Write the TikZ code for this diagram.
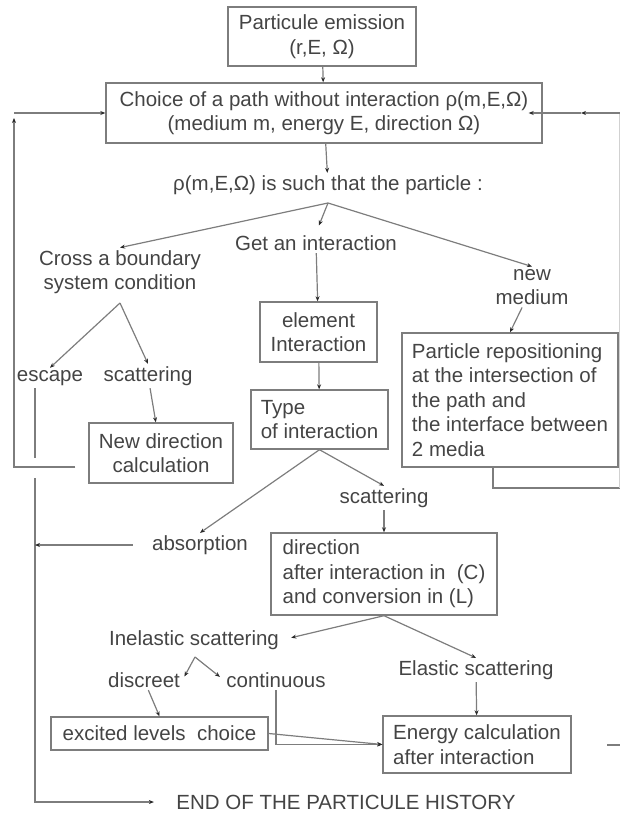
\documentclass[tikz,border=0pt]{standalone}
\usepackage{fontspec}
\setmainfont{Liberation Sans}
\usetikzlibrary{arrows.meta}
\definecolor{inkgray}{RGB}{68,68,68}
\definecolor{linegray}{RGB}{125,125,125}
\definecolor{tipgray}{RGB}{40,40,40}

\begin{document}
\begin{tikzpicture}[x=1pt, y=-1pt, ->, >={Stealth[length=5pt, width=4pt, color=tipgray]},
    line width=1.2pt, color=linegray,
    every node/.style={
        text=inkgray,
        inner sep=2pt,
        font=\fontsize{20.5}{24.5}\selectfont
    },
    box/.style={draw=linegray, line width=1.4pt, align=center, inner sep=0pt},
    lbox/.style={box, align=left},
    lbl/.style={align=center}]

    \useasboundingbox (0,0) rectangle (620,813);

    % Emission and choice of the path
    \node[box, minimum width=188pt, minimum height=59pt] (emis) at (322,36.5) {Particule emission\\(r,E, Ω)};
    \node[box, minimum width=436pt, minimum height=60pt] (choice) at (324,113) {Choice of a path without interaction ρ(m,E,Ω)\\(medium m, energy E, direction Ω)};
    \node[lbl] (such) at (328,185) {ρ(m,E,Ω) is such that the particle :};
    \coordinate (forkA) at (328,203);

    % Three outcomes
    \node[lbl] (cross) at (120,272) {Cross a boundary\\system condition};
    \node[lbl] (getint) at (316,243) {Get an interaction};
    \node[lbl] (newmed) at (532,287) {new\\medium};
    \node[box, minimum width=117pt, minimum height=60pt] (elem) at (318.5,332) {element\\Interaction};
    \node[lbox, minimum width=216pt, minimum height=134pt] (repos) at (510,400) {Particle repositioning\\at the intersection of\\the path and\\the interface between\\2 media};

    % Boundary branch
    \coordinate (forkB) at (120,303);
    \node[lbl] (escape) at (50,378) {escape};
    \node[lbl] (scatA) at (148,376) {scattering};
    \node[box, minimum width=144pt, minimum height=60pt] (newdir) at (161,453) {New direction\\calculation};

    % Interaction branch
    \node[lbox, minimum width=137pt, minimum height=59pt] (itype) at (319.5,419.5) {Type\\of interaction};
    \node[lbl] (scatB) at (384,498) {scattering};
    \node[lbl] (absorb) at (200,545) {absorption};
    \node[lbox, minimum width=226pt, minimum height=82pt] (dirconv) at (384,574) {direction\\after interaction in\ \ (C)\\and conversion in (L)};
    \node[lbl] (inel) at (194,640) {Inelastic scattering};
    \node[lbl] (elast) at (476,670) {Elastic scattering};
    \coordinate (forkD) at (195,657);
    \node[lbl] (discr) at (144,680) {discreet};
    \node[lbl] (contin) at (276,680) {continuous};
    \node[box, minimum width=217pt, minimum height=33pt] (excited) at (159.5,733.5) {excited levels\ \ choice};
    \node[lbox, minimum width=188pt, minimum height=57pt] (energy) at (477,744.5) {Energy calculation\\after interaction};
    \node[lbl] (hist) at (346,802) {END OF THE PARTICULE HISTORY};

    % Main chain
    \draw (emis) -- (choice);
    \draw (choice) -- (such);
    \draw (forkA) -- (cross.north);
    \draw[shorten >=8pt] (forkA) -- (getint.north);
    \draw (forkA) -- (newmed.north);
    \draw (getint) -- (elem);
    \draw (newmed) -- (repos.north);
    \draw (elem) -- (itype);

    % Boundary
    \draw (forkB) -- (escape.north);
    \draw (forkB) -- (scatA.north);
    \draw (scatA) -- (newdir);

    % Back to the choice of a path
    \coordinate (backB) at (14,467);
    \coordinate (backT) at (14,113);
    \draw ([shift={(-13,14)}]newdir.west) -- (backB) -- ([shift={(0,5)}]backT);
    \draw (backT) -- (choice.west);
    \coordinate (rightB) at (620,488);
    \coordinate (rightT) at (620,113);
    \coordinate (rightmid) at (581,113);
    \draw[-] ([xshift=-17pt]repos.south) |- (rightB);
    \draw[-, color=linegray!35] (rightB) -- (rightT);
    \draw (rightT) -- (rightmid);
    \draw[shorten >=-14pt] (rightmid) -- (choice.east);
    \coordinate (energyout) at (620,745);
    \draw[-] ([xshift=-13pt]energyout) -- (energyout);

    % Escape and absorption
    \coordinate (escA) at (35,458);
    \coordinate (escB) at (35,478);
    \draw[-] (escape.south -| escA) -- (escA);
    \draw[shorten >=20pt] (escB) |- (hist.west);
    \draw[shorten <=17pt] (absorb.west) -- (absorb.west -| escA);

    % Type of interaction
    \draw (itype.south) -- (absorb.north);
    \draw (itype.south) -- (scatB.north);
    \draw (scatB) -- (dirconv);
    \draw[shorten >=10pt] (dirconv.south) -- (inel.east);
    \draw (dirconv.south) -- (elast.north);

    % Inelastic and elastic
    \draw[shorten >=4pt] (forkD) -- (discr.east);
    \draw[shorten >=5pt] (forkD) -- (contin.west);
    \draw (discr) -- (excited.north);
    \draw (contin.south) |- (energy.west);
    \draw (excited.east) -- (energy.west);
    \draw (elast) -- (energy);
\end{tikzpicture}
\end{document}
